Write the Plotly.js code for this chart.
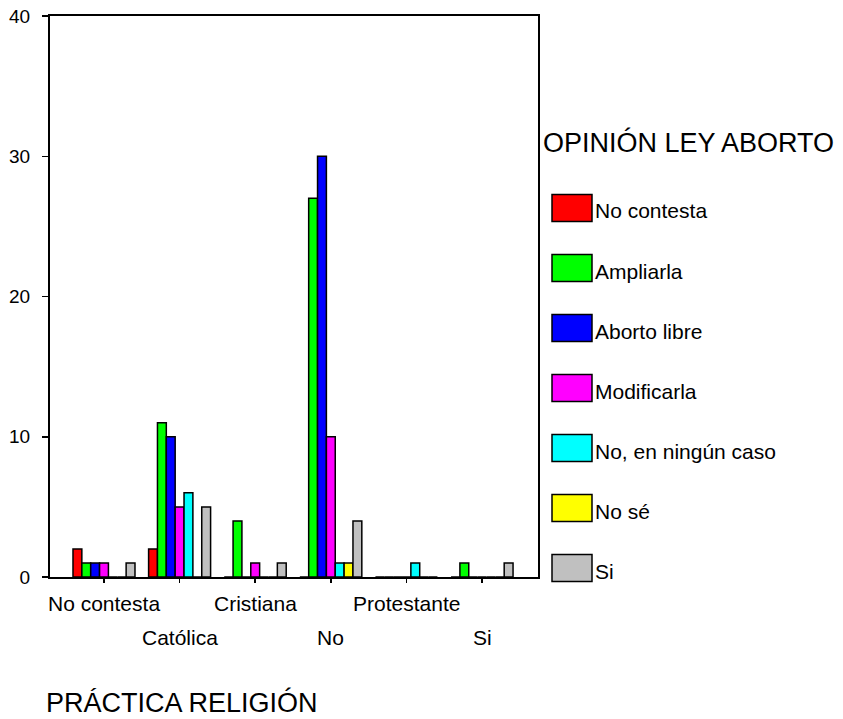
<!DOCTYPE html>
<html>
<head>
<meta charset="utf-8">
<script src="https://cdn.plot.ly/plotly-3.0.1.min.js"></script>
<style>html,body{margin:0;padding:0;background:#fff;}#chart{width:843px;height:719px;}</style>
</head>
<body>
<div id="chart"></div>
<script>
const categories = ["No contesta", "Católica", "Cristiana", "No", "Protestante", "Si"];
const seriesNames = ["No contesta", "Ampliarla", "Aborto libre", "Modificarla", "No, en ningún caso", "No sé", "Si"];
const seriesColors = ["#FF0000", "#00FF00", "#0000FF", "#FF00FF", "#00FFFF", "#FFFF00", "#C0C0C0"];
const noContesta   = [2, 2, 0, 0, 0, 0];
const ampliarla    = [1, 11, 4, 27, 0, 1];
const abortoLibre  = [1, 10, 0, 30, 0, 0];
const modificarla  = [1, 5, 1, 10, 0, 0];
const ningunCaso   = [0, 6, 0, 1, 1, 0];
const noSe         = [0, 0, 0, 1, 0, 0];
const si           = [1, 5, 1, 4, 0, 1];
const yTicks = [0, 10, 20, 30, 40];
const seriesValues = [noContesta, ampliarla, abortoLibre, modificarla, ningunCaso, noSe, si];

const FONT = "Liberation Sans, Arial, Helvetica, sans-serif";
const idx = categories.map((c, i) => i);

const traces = seriesValues.map((vals, s) => ({
  type: "bar",
  name: seriesNames[s],
  x: idx,
  y: vals,
  marker: {color: seriesColors[s], line: {color: "#000", width: 1.5}},
  showlegend: false,
  hoverinfo: "x+y+name"
}));

// plot area in px: x 50..538, y 16..577
const L = 50, R = 538, T = 16, B = 577;
const px2x = p => (p - L) / (R - L);
const px2y = p => (B - p) / (B - T);

const annotations = [];
const shapes = [];

// staggered category labels
categories.forEach((c, i) => {
  annotations.push({
    x: i, xref: "x", yref: "paper",
    y: px2y(i % 2 === 0 ? 603 : 637),
    text: c, showarrow: false, xanchor: "center", yanchor: "middle",
    font: {family: FONT, size: 21, color: "#000"}
  });
});

// x-axis title
annotations.push({
  xref: "paper", yref: "paper", x: px2x(44), y: px2y(702),
  text: "PRÁCTICA RELIGIÓN", showarrow: false, xanchor: "left", yanchor: "middle",
  font: {family: FONT, size: 27, color: "#000"}
});

// legend title
annotations.push({
  xref: "paper", yref: "paper", x: px2x(541), y: px2y(142),
  text: "OPINIÓN LEY ABORTO", showarrow: false, xanchor: "left", yanchor: "middle",
  font: {family: FONT, size: 27, color: "#000"}
});

// custom legend
seriesNames.forEach((n, s) => {
  const cy = 208 + 60 * s;
  shapes.push({
    type: "rect", xref: "paper", yref: "paper",
    x0: px2x(552), x1: px2x(592), y0: px2y(cy - 13.5), y1: px2y(cy + 13.5),
    fillcolor: seriesColors[s], line: {color: "#000", width: 1.5}
  });
  annotations.push({
    xref: "paper", yref: "paper", x: px2x(593), y: px2y(cy + 3),
    text: n, showarrow: false, xanchor: "left", yanchor: "middle",
    font: {family: FONT, size: 21, color: "#000"}
  });
});

const layout = {
  width: 843, height: 719,
  margin: {l: L, r: 843 - R, t: T, b: 719 - B, pad: 0},
  paper_bgcolor: "#fff", plot_bgcolor: "#fff",
  barmode: "group", bargap: 0.18, bargroupgap: 0,
  font: {family: FONT, color: "#000"},
  xaxis: {
    range: [-0.714, 5.74], tickvals: idx, ticktext: categories, showticklabels: false,
    ticks: "outside", ticklen: 4, tickwidth: 1.5, tickcolor: "#000",
    showline: true, linecolor: "#000", linewidth: 2, mirror: true,
    showgrid: false, zeroline: false, fixedrange: true
  },
  yaxis: {
    range: [0, 40], tickvals: yTicks, ticktext: yTicks.map(String),
    ticks: "outside", ticklen: 6, tickwidth: 1.5, tickcolor: "#000",
    ticklabelstandoff: 8,
    tickfont: {family: FONT, size: 19, color: "#000"},
    showline: true, linecolor: "#000", linewidth: 2, mirror: true,
    showgrid: false, zeroline: false, fixedrange: true
  },
  annotations: annotations,
  shapes: shapes
};

Plotly.newPlot("chart", traces, layout, {displayModeBar: false, staticPlot: true});
</script>
</body>
</html>
